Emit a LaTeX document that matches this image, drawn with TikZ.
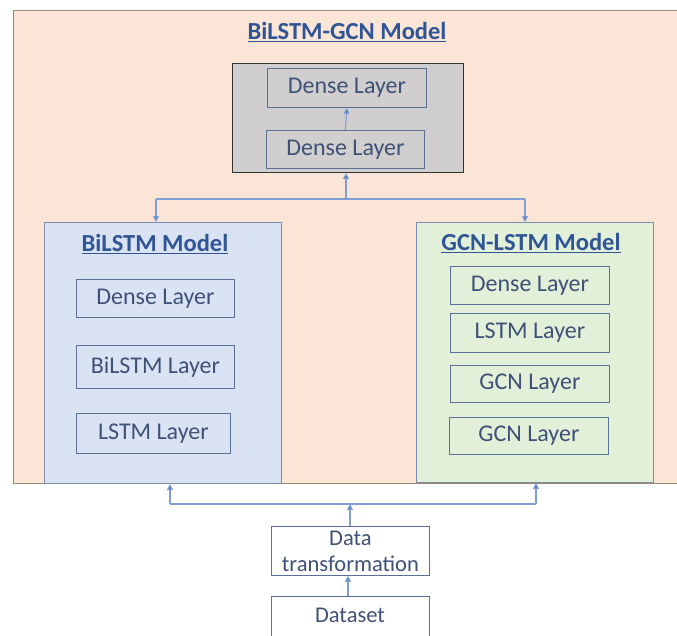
\documentclass[tikz,border=0pt]{standalone}
\usepackage{fontspec}
\setmainfont{Carlito}
\usetikzlibrary{arrows.meta}
\definecolor{peach}{HTML}{FBE5D6}
\definecolor{peachedge}{HTML}{A08672}
\definecolor{greyfill}{HTML}{D0CECE}
\definecolor{bluefill}{HTML}{DAE3F3}
\definecolor{greenfill}{HTML}{E2F0D9}
\definecolor{boxedge}{HTML}{5B7096}
\definecolor{labeltext}{HTML}{3F5177}
\definecolor{titletext}{HTML}{2F5597}
\definecolor{wire}{HTML}{7F9FD4}
\definecolor{tipcol}{HTML}{4472C4}
\tikzset{
  layerbox/.style={draw=boxedge, line width=0.8pt, text=labeltext, font=\fontsize{24}{26}\selectfont, inner sep=0pt, align=center},
  container/.style={draw=boxedge!80, line width=1pt, inner sep=0pt},
  titletxt/.style={text=titletext, font=\bfseries\fontsize{24.5}{28}\selectfont, inner sep=0pt},
  flow/.style={draw=wire, line width=1.1pt, -{Triangle[length=6pt,width=6pt,fill=tipcol]}},
  plain/.style={draw=wire, line width=1.1pt}
}
\begin{document}
\begin{tikzpicture}[x=1pt,y=-1pt]
\useasboundingbox (0,0) rectangle (677,635);
\clip (0,0) rectangle (677,635);
\fill[white] (0,0) rectangle (677,635);

% outer model frame
\node[draw=peachedge, fill=peach, line width=1pt, minimum width=680pt, minimum height=473pt, inner sep=0pt, anchor=north west] (outer) at (13,10) {};
\node[titletxt] (maintitle) at (347,32) {\underline{BiLSTM-GCN Model}};

% head of the combined model
\node[draw=black!80, fill=greyfill, line width=1pt, minimum width=231pt, minimum height=109pt, inner sep=0pt, anchor=north west] (head) at (232,63) {};
\node[layerbox, minimum width=159pt, minimum height=39pt, anchor=north west] (dtop) at (267,68) {Dense Layer};
\node[layerbox, minimum width=158pt, minimum height=38pt, anchor=north west] (dbot) at (266,130) {Dense Layer};

% BiLSTM branch
\node[container, fill=bluefill, minimum width=237pt, minimum height=261pt, anchor=north west] (bilstm) at (44,222) {};
\node[titletxt] (bititle) at (155,244) {\underline{BiLSTM Model}};
\node[layerbox, minimum width=158pt, minimum height=38pt, anchor=north west] (bdense) at (76,279) {Dense Layer};
\node[layerbox, minimum width=158pt, minimum height=43pt, anchor=north west] (bbil) at (76,345) {BiLSTM Layer};
\node[layerbox, minimum width=154pt, minimum height=40pt, anchor=north west] (blstm) at (76,413) {LSTM Layer};

% GCN-LSTM branch
\node[container, fill=greenfill, minimum width=237pt, minimum height=260pt, anchor=north west] (gcn) at (416,222) {};
\node[titletxt] (gtitle) at (531,243) {\underline{GCN-LSTM Model}};
\node[layerbox, minimum width=159pt, minimum height=38pt, anchor=north west] (gdense) at (450,266) {Dense Layer};
\node[layerbox, minimum width=159pt, minimum height=39pt, anchor=north west] (glstm) at (450,313) {LSTM Layer};
\node[layerbox, minimum width=159pt, minimum height=37pt, anchor=north west] (gcna) at (450,365) {GCN Layer};
\node[layerbox, minimum width=159pt, minimum height=37pt, anchor=north west] (gcnb) at (449,417) {GCN Layer};

% data preparation
\node[layerbox, fill=white, minimum width=158pt, minimum height=49pt, anchor=north west, font=\fontsize{22.5}{26}\selectfont] (trans) at (271,526) {Data\\transformation};
\node[layerbox, fill=white, minimum width=158pt, minimum height=50pt, anchor=north west] (data) at (271,596) {};
\node[text=labeltext, font=\fontsize{22.5}{26}\selectfont, inner sep=0pt] (datalbl) at (350,615) {Dataset};

% connectors inside the head
\draw[flow] (dbot.north) -- (dtop.south);

% merge of the two branches into the head
\coordinate (mj) at (346,199);
\coordinate (ml) at (156,199);
\coordinate (mr) at (525,199);
\draw[plain] (ml) -- (mr);
\draw[flow] (mj) -- (head.south -| mj);
\draw[flow] (ml) -- (bilstm.north -| ml);
\draw[flow] (mr) -- (gcn.north -| mr);

% split of the transformed data into the two branches
\coordinate (sj) at (350,504);
\coordinate (sl) at (170,504);
\coordinate (sr) at (536,504);
\draw[plain] (sl) -- (sr);
\draw[flow] (trans.north -| sj) -- (sj);
\draw[flow] (sl) -- (bilstm.south -| sl);
\draw[flow] (sr) -- (gcn.south -| sr);
\draw[flow] (data.north -| 348,0) -- (trans.south -| 348,0);
\end{tikzpicture}
\end{document}
